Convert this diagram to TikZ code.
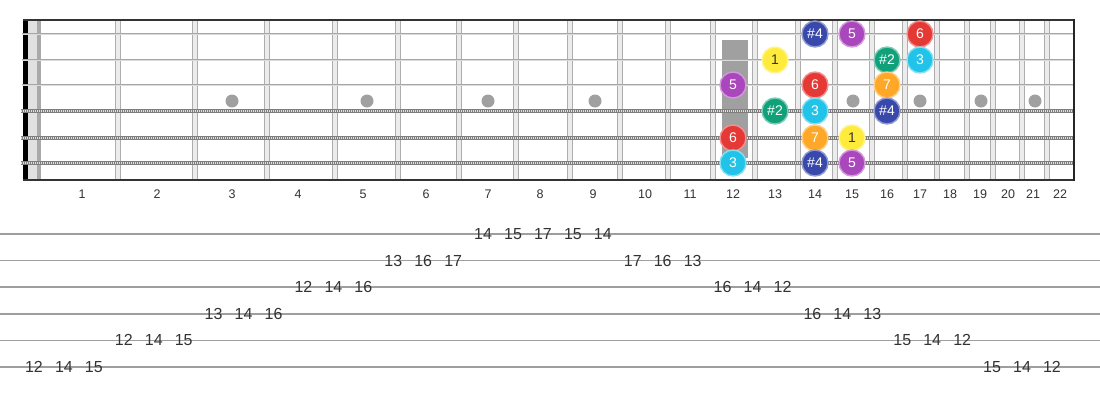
\documentclass[tikz,border=0pt]{standalone}
\usepackage{fontspec}
\setmainfont{Liberation Sans}
\definecolor{cIndigo}{HTML}{3949AB}
\definecolor{cPurple}{HTML}{AB47BC}
\definecolor{cRed}{HTML}{E53935}
\definecolor{cYellow}{HTML}{FFEB3B}
\definecolor{cGreen}{HTML}{10A07A}
\definecolor{cCyan}{HTML}{22C3E8}
\definecolor{cOrange}{HTML}{FFA726}
\definecolor{inlay}{HTML}{A0A0A0}
\definecolor{fretline}{HTML}{ADADAD}
\definecolor{fretfill}{HTML}{ECECEC}
\definecolor{plainstr}{HTML}{A6A6A6}
\definecolor{woundstr}{HTML}{7E7E7E}
\definecolor{tabline}{HTML}{9E9E9E}
\definecolor{txt}{HTML}{333333}
\tikzset{
  note/.style={circle, minimum size=26pt, inner sep=0pt, fill=#1, draw=#1!55!white,
    line width=1.4pt, text=white, font=\fontsize{14}{14}\selectfont},
  darknote/.style={note=#1, text=txt},
  fretnum/.style={inner sep=0pt, text=txt, font=\fontsize{12.5}{12.5}\selectfont},
  tabnum/.style={inner sep=0pt, text=txt, font=\fontsize{16}{16}\selectfont},
  inlaydot/.style={fill=inlay},
}
\begin{document}
\begin{tikzpicture}[x=1pt,y=-1pt]
\useasboundingbox (0,0) rectangle (1100,400);
\fill[white] (0,0) rectangle (1100,400);
% frets
\foreach \x in {118,195,267,335,398,459,516,570,620,668,713,755,798,835,872,905,937,967,993,1022,1047}{
  \filldraw[fill=fretfill, draw=fretline, line width=1pt] (\x-2.2,20) rectangle (\x+2.2,180);
}
% inlays
\foreach \x in {232,367,488,595,853,920,981,1035}{
  \fill[inlaydot] (\x,101) circle (6.5);
}
\fill[inlay] (722,40) rectangle (748,158);
% nut
\fill[black] (23,20) rectangle (28,180);
\fill[fretfill!90!gray] (28,20) rectangle (37,180);
\fill[fretline!90!gray] (37,20) rectangle (41,180);
% strings
\foreach \y in {34,60,85}{
  \draw[plainstr, line width=2.8pt] (22,\y) -- (1075,\y);
  \draw[white!60!plainstr, line width=0.8pt] (22,\y) -- (1075,\y);
}
\foreach \y in {111,138,163}{
  \draw[woundstr, line width=4pt] (21,\y) -- (1075,\y);
  \draw[white!75!woundstr, line width=2pt, dash pattern=on 1pt off 1pt] (21,\y) -- (1075,\y);
}
% borders
\draw[txt, line width=1.6pt] (23,20) -- (1075,20);
\draw[txt, line width=1.6pt] (23,180) -- (1075,180);
\draw[black!85, line width=2pt] (1074,19.2) -- (1074,180.8);
% notes
\node[note=cIndigo] (n1a) at (815,34) {\#4};
\node[note=cPurple] (n1b) at (852,34) {5};
\node[note=cRed]    (n1c) at (920,34) {6};
\node[darknote=cYellow] (n2a) at (775,60) {1};
\node[note=cGreen]  (n2b) at (887,60) {\#2};
\node[note=cCyan]   (n2c) at (920,60) {3};
\node[note=cPurple] (n3a) at (733,85) {5};
\node[note=cRed]    (n3b) at (815,85) {6};
\node[note=cOrange] (n3c) at (887,85) {7};
\node[note=cGreen]  (n4a) at (775,111) {\#2};
\node[note=cCyan]   (n4b) at (815,111) {3};
\node[note=cIndigo] (n4c) at (887,111) {\#4};
\node[note=cRed]    (n5a) at (733,138) {6};
\node[note=cOrange] (n5b) at (815,138) {7};
\node[darknote=cYellow] (n5c) at (852,138) {1};
\node[note=cCyan]   (n6a) at (733,163) {3};
\node[note=cIndigo] (n6b) at (815,163) {\#4};
\node[note=cPurple] (n6c) at (852,163) {5};
% fret numbers
\foreach \n/\x in {1/82,2/157,3/232,4/298,5/363,6/426,7/488,8/540,9/593,10/645,11/690,12/733,13/775,14/815,15/852,16/887,17/920,18/950,19/980,20/1008,21/1033,22/1060}{
  \node[fretnum] (fn\n) at (\x,194) {\n};
}
% tab lines
\foreach \k in {0,...,5}{
  \draw[tabline, line width=1.7pt] (0,{234+26.6*\k}) -- (1100,{234+26.6*\k});
}
% tab numbers
\foreach \s/\f [count=\i from 0] in {6/12,6/14,6/15,5/12,5/14,5/15,4/13,4/14,4/16,3/12,3/14,3/16,2/13,2/16,2/17,1/14,1/15,1/17,1/15,1/14,2/17,2/16,2/13,3/16,3/14,3/12,4/16,4/14,4/13,5/15,5/14,5/12,6/15,6/14,6/12}{
  \node[tabnum] (t\i) at ({34+29.94*\i},{234+26.6*(\s-1)}) {\f};
}
\end{tikzpicture}
\end{document}
